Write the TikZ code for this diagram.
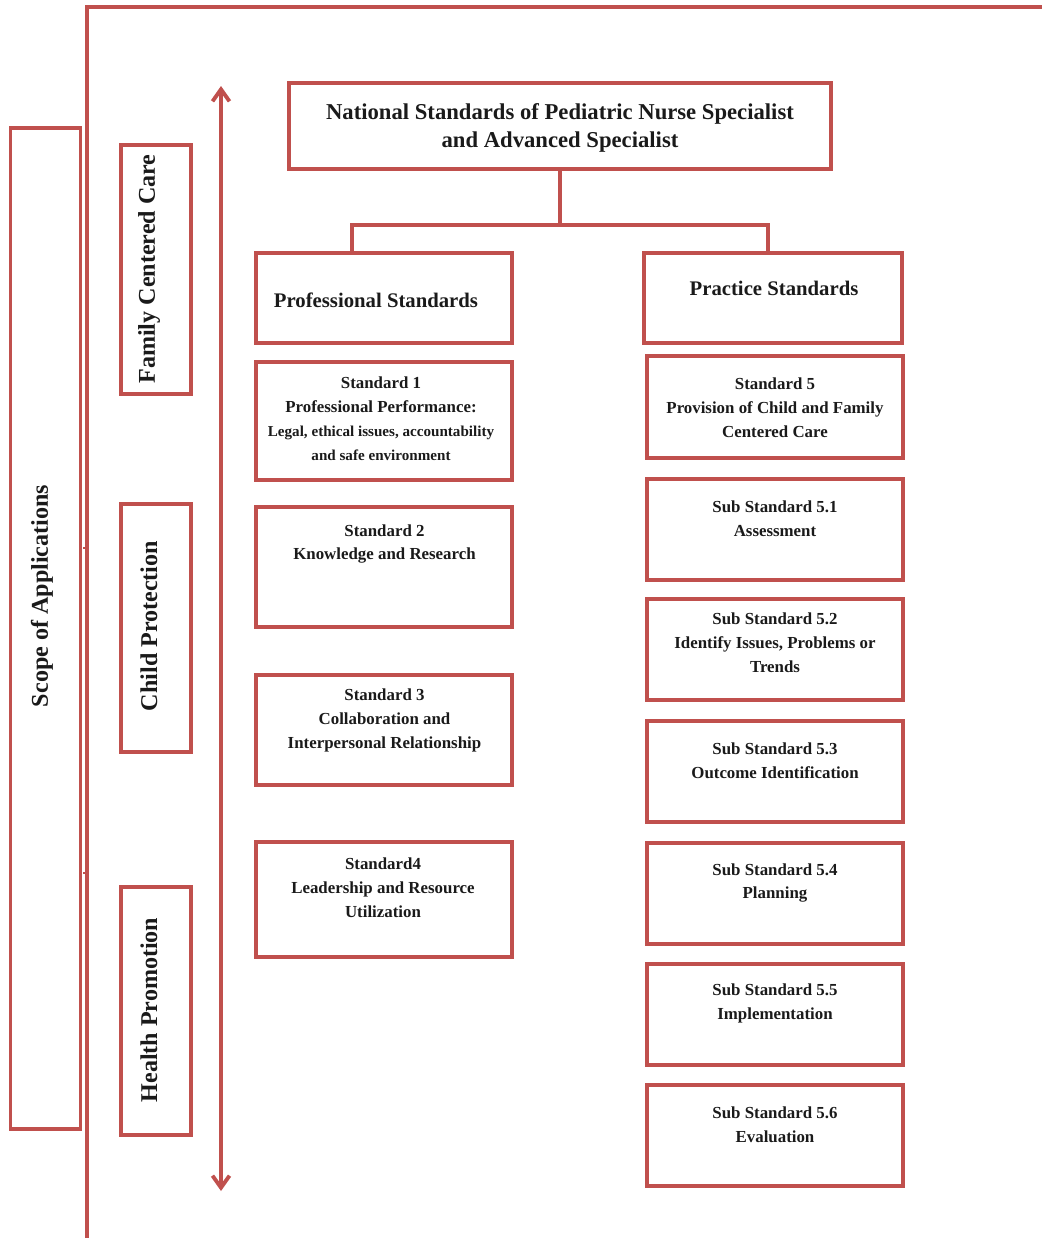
\documentclass[tikz,border=0pt]{standalone}
\usepackage{fontspec}
\setmainfont{Liberation Serif}
\usetikzlibrary{positioning, arrows.meta, calc}
\definecolor{accent}{HTML}{C0504D}
\definecolor{ink}{HTML}{1A1A1A}
\newcommand{\smallfnt}{\fontsize{8.6}{12.4}\selectfont}

\begin{document}
\begin{tikzpicture}[
    x=0.02cm, y=-0.02cm,
    frame/.style={draw=accent, line width=2pt},
    box/.style={draw=accent, line width=2pt, minimum width=5.12cm},
    sidebox/.style={draw=accent, line width=2pt, minimum width=1.4cm},
    boxtext/.style={text=ink, align=center, font=\fontsize{9.6}{13.6}\selectfont\bfseries},
    headtext/.style={text=ink, align=center, font=\fontsize{11.8}{15}\selectfont\bfseries},
    titletext/.style={text=ink, align=center, font=\fontsize{12.9}{16.4}\selectfont\bfseries},
    sidetext/.style={text=ink, rotate=90, font=\fontsize{13.7}{16}\selectfont\bfseries},
    link/.style={draw=accent, line width=2pt},
    span/.style={draw=accent, line width=2.2pt, {Straight Barb[length=2.4mm, width=3.4mm]}-{Straight Barb[length=2.4mm, width=3.4mm]}}
]
\useasboundingbox (0,0) rectangle (1042,1238);

% Outer frame
\coordinate (framebot) at (87,1238);
\coordinate (framecorner) at (87,7);
\coordinate (frameright) at (1042,7);
\draw[frame] (framebot) -- (framecorner) -- (frameright);
\coordinate (tickA) at (83,548);
\coordinate (tickB) at (83,873);
\draw[accent, line width=1.4pt] (tickA) -- ++(6,0);
\draw[accent, line width=1.4pt] (tickB) -- ++(6,0);

% Scope of applications
\node[sidebox, minimum height=20.02cm] (scope) at (45.5,628.5) {};
\node[sidetext] (scopetxt) at (42,596) {Scope of Applications};

\node[sidebox, minimum height=4.98cm] (family) at (156,269.5) {};
\node[sidetext] (familytxt) at (149,269) {Family Centered Care};
\node[sidebox, minimum height=4.96cm] (child) at (156,628) {};
\node[sidetext] (childtxt) at (149,626) {Child Protection};
\node[sidebox, minimum height=4.96cm] (health) at (156,1011) {};
\node[sidetext] (healthtxt) at (149,1010) {Health Promotion};

% Double arrow
\coordinate (spantop) at (221,86);
\coordinate (spanbot) at (221,1191);
\draw[span] (spantop) -- (spanbot);

% Title
\node[box, minimum width=10.84cm, minimum height=1.72cm] (top) at (560,126) {};
\node[titletext] (toptxt) at (560,128) {National Standards of Pediatric Nurse Specialist\\and Advanced Specialist};

% Two branches
\node[box, minimum height=1.8cm] (prof) at (384,298) {};
\node[headtext] (proftxt) at (376,300) {Professional Standards};
\node[box, minimum width=5.16cm, minimum height=1.8cm] (prac) at (773,298) {};
\node[headtext] (practxt) at (774,288) {Practice Standards};

\coordinate (fork) at (560,225);
\draw[link] (top.south) -- (fork);
\draw[link] (fork) -| ([xshift=-0.64cm]prof.north);
\draw[link] (fork) -| ([xshift=-0.1cm]prac.north);

% Professional standards
\node[box, minimum height=2.36cm] (std1) at (384,421) {};
\node[boxtext] (std1txt) at (381,419) {Standard 1\\Professional Performance:\\{\smallfnt Legal, ethical issues, accountability}\\{\smallfnt and safe environment}};
\node[box, minimum height=2.4cm] (std2) at (384,567) {};
\node[boxtext] (std2txt) at (384.5,544) {Standard 2\\Knowledge and Research};
\node[box, minimum height=2.2cm] (std3) at (384,730) {};
\node[boxtext] (std3txt) at (384.5,720.5) {Standard 3\\Collaboration and\\Interpersonal Relationship};
\node[box, minimum height=2.3cm] (std4) at (384,899.5) {};
\node[boxtext] (std4txt) at (383,888) {Standard4\\Leadership and Resource\\Utilization};

% Practice standards
\node[box, minimum height=2.04cm] (std5) at (775,407) {};
\node[boxtext] (std5txt) at (775,408) {Standard 5\\Provision of Child and Family\\Centered Care};
\node[box, minimum height=2.02cm] (sub51) at (775,529.5) {};
\node[boxtext] (sub51txt) at (775,519) {Sub Standard 5.1\\Assessment};
\node[box, minimum height=2.02cm] (sub52) at (775,649.5) {};
\node[boxtext] (sub52txt) at (775,643) {Sub Standard 5.2\\Identify Issues, Problems or\\Trends};
\node[box, minimum height=2.02cm] (sub53) at (775,771.5) {};
\node[boxtext] (sub53txt) at (775,761) {Sub Standard 5.3\\Outcome Identification};
\node[box, minimum height=2.02cm] (sub54) at (775,893.5) {};
\node[boxtext] (sub54txt) at (775,883) {Sub Standard 5.4\\Planning};
\node[box, minimum height=2.02cm] (sub55) at (775,1014.5) {};
\node[boxtext] (sub55txt) at (775,1003.5) {Sub Standard 5.5\\Implementation};
\node[box, minimum height=2.02cm] (sub56) at (775,1135.5) {};
\node[boxtext] (sub56txt) at (775,1125) {Sub Standard 5.6\\Evaluation};

\end{tikzpicture}
\end{document}
